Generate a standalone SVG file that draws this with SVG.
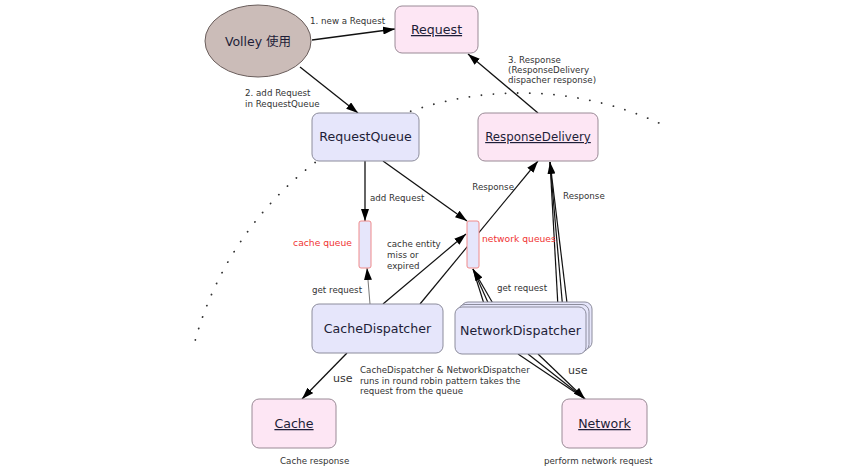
<svg xmlns="http://www.w3.org/2000/svg" width="857" height="473" viewBox="0 0 857 473">
<style>
text{font-family:"DejaVu Sans","Noto Sans CJK SC",sans-serif;fill:#222}
.lbl{font-size:8.7px;fill:#333}
.red{font-size:9.2px;fill:#f03434}
.node{font-size:12.6px;fill:#1e1e38;text-anchor:middle}
.u{text-decoration:underline}
.use{font-size:11px;fill:#333}
.blue{fill:#e6e6fb;stroke:#8c8c9c;stroke-width:1}
.pink{fill:#fde6f4;stroke:#9a8a96;stroke-width:1}
.queue{fill:#e6e6fb;stroke:#f08a8a;stroke-width:1}
.c{stroke:#111;stroke-width:1.3;fill:none;marker-end:url(#ah)}
.t{stroke:#111;stroke-width:1.2;fill:none}
.ta{stroke:#111;stroke-width:1.2;fill:none;marker-end:url(#ah)}
.g{stroke:#666;stroke-width:0.9;fill:none;marker-end:url(#ah)}
</style>
<defs>
<marker id="ah" viewBox="0 0 12 8" refX="12" refY="4" markerWidth="12" markerHeight="8" orient="auto" markerUnits="userSpaceOnUse">
<path d="M0,0 L12,4 L0,8 Z" fill="#000"/>
</marker>
</defs>
<rect width="857" height="473" fill="#fff"/>
<path d="M195.3,340 A337,337 0 0 1 659.7,123.3" fill="none" stroke="#333" stroke-width="1.8" stroke-linecap="round" stroke-dasharray="0.1 12"/>
<g id="connectors">
<line class="c" x1="312" y1="40" x2="395" y2="29"/>
<line class="c" x1="300" y1="67" x2="358" y2="113"/>
<line class="c" x1="538" y1="113" x2="468" y2="54"/>
<line class="c" x1="365" y1="161" x2="365" y2="221"/>
<line class="c" x1="383" y1="161" x2="467" y2="221"/>
<line class="g" x1="370" y1="304" x2="367" y2="268"/>
<line class="ta" x1="383" y1="304" x2="466" y2="234"/>
<line class="ta" x1="420" y1="304" x2="538" y2="161"/>
<line class="t" x1="485" y1="307" x2="473" y2="269"/>
<line class="t" x1="490" y1="307" x2="473" y2="269"/>
<line class="ta" x1="495" y1="307" x2="473" y2="269"/>
<line class="t" x1="558" y1="307" x2="550" y2="162"/>
<line class="t" x1="562.5" y1="305" x2="550" y2="162"/>
<line class="ta" x1="567" y1="303" x2="550" y2="162"/>
<line class="c" x1="347" y1="353" x2="302" y2="399"/>
<line class="t" x1="518" y1="354" x2="585" y2="399"/>
<line class="t" x1="528" y1="354" x2="585" y2="399"/>
<line class="ta" x1="538" y1="354" x2="585" y2="399"/>
</g>
<g id="volley"><ellipse cx="258" cy="41" rx="53" ry="36" fill="#cbbcb8" stroke="#6a5e5c" stroke-width="1"/><text x="258" y="46" class="node" style="font-size:12.5px">Volley 使用</text></g>
<g id="request"><rect x="395" y="6" width="83" height="47" rx="7" class="pink"/><text x="436.5" y="34" class="node u">Request</text></g>
<g id="requestqueue"><rect x="312" y="113" width="107" height="48" rx="7" class="blue"/><text x="365.5" y="141" class="node">RequestQueue</text></g>
<g id="responsedelivery"><rect x="478" y="113" width="120" height="48" rx="7" class="pink"/><text x="538" y="141" class="node u" style="font-size:11.8px">ResponseDelivery</text></g>
<g id="cachequeue"><rect x="359" y="221" width="12" height="47" rx="2" class="queue"/><text x="352" y="246" class="red" text-anchor="end">cache queue</text></g>
<g id="networkqueue"><rect x="467" y="221" width="12" height="47" rx="2" class="queue"/><text x="482" y="242" class="red">network queues</text></g>
<g id="cachedispatcher"><rect x="312" y="304" width="131" height="49" rx="7" class="blue"/><text x="377.5" y="333" class="node">CacheDispatcher</text></g>
<g id="networkdispatcher">
<rect x="461" y="302" width="131" height="47" rx="7" class="blue"/>
<rect x="458" y="304.5" width="131" height="47" rx="7" class="blue"/>
<rect x="455" y="307" width="131" height="47" rx="7" class="blue"/>
<text x="520.5" y="335" class="node">NetworkDispatcher</text></g>
<g id="cache"><rect x="252" y="399" width="84" height="49" rx="7" class="pink"/><text x="294" y="428" class="node u">Cache</text></g>
<g id="network"><rect x="562" y="399" width="85" height="49" rx="7" class="pink"/><text x="604.5" y="428" class="node u">Network</text></g>
<g id="labels">
<text x="310" y="24" class="lbl">1. new a Request</text>
<text x="245" y="96" class="lbl">2. add Request</text>
<text x="245" y="107" class="lbl">in RequestQueue</text>
<text x="508" y="63" class="lbl">3. Response</text>
<text x="508" y="73" class="lbl">(ResponseDelivery</text>
<text x="508" y="83" class="lbl">dispacher response)</text>
<text x="370" y="201" class="lbl">add Request</text>
<text x="514" y="190" class="lbl" text-anchor="end">Response</text>
<text x="563" y="199" class="lbl">Response</text>
<text x="387" y="247" class="lbl">cache entity</text>
<text x="387" y="258" class="lbl">miss or</text>
<text x="387" y="269" class="lbl">expired</text>
<text x="312" y="293" class="lbl">get request</text>
<text x="497" y="291" class="lbl">get request</text>
<text x="333" y="382" class="use">use</text>
<text x="568" y="374" class="use">use</text>
<text x="360" y="373" class="lbl">CacheDispatcher &amp; NetworkDispatcher</text>
<text x="360" y="384" class="lbl">runs in round robin pattern takes the</text>
<text x="360" y="394" class="lbl">request from the queue</text>
<text x="280" y="464" class="lbl">Cache response</text>
<text x="544" y="464" class="lbl">perform network request</text>
</g>
</svg>
